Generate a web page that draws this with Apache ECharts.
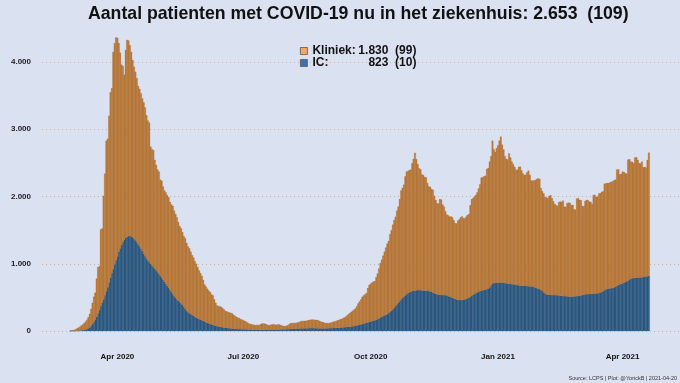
<!DOCTYPE html>
<html>
<head>
<meta charset="utf-8">
<script src="https://cdn.jsdelivr.net/npm/echarts@6/dist/echarts.min.js"></script>
<style>html,body{margin:0;padding:0;background:#dbe3f3}#c{width:680px;height:383px}</style>
</head>
<body>
<div id="c"></div>
<script>
// Daily hospital occupancy (total = Kliniek + IC), starting 2020-02-27
const totaal_feb20 = [5, 8, 12];
const totaal_mar20 = [18,28,40,52,66,82,98,118,140,168,205,255,330,420,510,570,780,950,965,1510,1525,2010,2340,2830,2860,3200,3550,3610,4150,4280,4365];
const totaal_apr20 = [4360,4280,4140,3960,3940,3810,4180,4330,4320,4250,4150,4030,3930,3855,3760,3645,3600,3535,3460,3400,3325,3210,3130,3100,2740,2705,2690,2545,2470,2400];
const totaal_may20 = [2370,2250,2235,2150,2090,2060,2020,1990,1920,1880,1860,1790,1740,1690,1620,1560,1530,1470,1410,1380,1310,1260,1230,1180,1130,1090,1040,1000,950,900,860];
const totaal_jun20 = [820,760,690,660,630,600,580,545,530,470,420,380,365,370,360,340,320,300,290,280,275,268,260,240,225,210,200,190,178,168];
const totaal_jul20 = [160,150,140,125,112,104,100,96,90,88,92,86,95,108,112,110,106,96,88,85,95,98,100,96,92,100,96,88,80,75,74];
const totaal_aug20 = [78,84,100,114,118,120,116,122,124,130,138,148,150,149,152,156,162,166,168,170,168,164,166,160,150,138,134,128,122,118,120];
const totaal_sep20 = [118,124,130,138,142,148,158,164,172,180,190,200,214,232,250,268,285,300,318,335,370,410,440,470,510,530,545,565,640,685];
const totaal_oct20 = [705,720,735,740,800,855,930,1010,1060,1120,1180,1240,1300,1340,1440,1500,1580,1650,1700,1790,1850,1960,2090,2130,2175,2300,2370,2380,2395,2400,2495];
const totaal_nov20 = [2560,2650,2555,2480,2420,2405,2330,2320,2290,2285,2200,2150,2145,2110,2100,2010,1950,1900,1895,1960,1955,1880,1850,1780,1730,1720,1700,1705,1690,1650];
const totaal_dec20 = [1605,1600,1640,1660,1690,1705,1680,1675,1700,1725,1740,1870,1960,1975,2000,2025,2060,2120,2180,2280,2290,2300,2310,2410,2425,2520,2600,2830,2700,2665,2720];
const totaal_jan21 = [2760,2830,2890,2770,2700,2600,2560,2550,2640,2580,2520,2480,2440,2400,2395,2440,2445,2390,2345,2320,2325,2360,2385,2320,2240,2235,2240,2245,2260,2270,2260];
const totaal_feb21 = [2125,2080,2045,1995,1985,1975,2010,2020,1975,1930,1890,1870,1860,1915,1925,1920,1940,1850,1845,1900,1910,1905,1870,1875,1810,1805,1970,1975];
const totaal_mar21 = [1950,1945,1860,1855,1930,1950,1945,1925,1920,1885,2020,2025,1995,2000,2045,2050,2070,2075,2190,2195,2200,2200,2210,2220,2225,2245,2250,2400,2405,2330,2335];
const totaal_apr21 = [2370,2365,2345,2340,2550,2555,2520,2515,2495,2580,2585,2545,2495,2490,2520,2435,2440,2430,2544,2653];

// IC occupancy
const ic_feb20 = [0, 1, 1];
const ic_mar20 = [2,3,4,5,7,9,11,15,20,28,40,55,80,105,135,170,210,260,310,370,420,470,530,590,650,720,790,860,920,990,1050];
const ic_apr20 = [1110,1180,1230,1280,1320,1355,1385,1400,1412,1413,1405,1395,1375,1350,1322,1290,1260,1225,1190,1150,1112,1080,1050,1025,1000,975,950,928,905,875];
const ic_may20 = [848,818,790,762,730,700,670,640,610,580,550,520,495,470,450,430,410,390,360,330,300,280,265,250,238,225,210,198,188,178,168];
const ic_jun20 = [160,150,140,130,122,114,106,98,90,84,78,72,66,62,58,55,52,48,45,42,40,38,36,34,32,30,29,28,27,26];
const ic_jul20 = [25,24,24,23,22,22,21,20,20,19,19,18,18,17,17,18,19,20,21,20,20,19,18,18,19,20,21,22,23,24,25];
const ic_aug20 = [26,27,28,30,31,32,33,34,35,36,37,38,38,39,40,40,41,41,42,42,41,40,40,39,38,38,37,37,38,39,40];
const ic_sep20 = [41,42,43,44,45,46,47,48,50,52,54,56,58,60,62,64,66,70,74,78,82,86,92,98,104,110,116,122,128,134];
const ic_oct20 = [140,146,152,158,166,176,188,200,212,222,230,238,250,266,284,302,322,345,370,395,420,445,470,490,510,530,548,562,574,584,592];
const ic_nov20 = [598,602,605,606,606,605,604,602,600,598,596,593,590,582,572,562,552,544,540,537,535,534,533,532,530,520,510,502,495,485];
const ic_dec20 = [476,468,463,460,460,461,464,470,478,486,495,510,525,538,550,562,575,585,592,598,604,610,615,622,632,648,680,705,712,716,719];
const ic_jan21 = [720,720,719,718,716,712,708,704,700,698,696,694,690,686,682,678,675,673,672,671,670,668,666,664,662,660,654,646,638,630,622];
const ic_feb21 = [610,595,575,558,545,540,538,536,535,534,533,532,530,528,525,522,520,519,518,515,512,510,510,511,514,516,518,520];
const ic_mar21 = [524,528,534,540,545,548,550,551,552,553,555,556,558,560,564,570,580,592,606,618,626,630,633,636,640,648,660,672,684,692,700];
const ic_apr21 = [708,718,728,738,750,765,778,784,788,790,792,794,795,796,798,802,806,810,813,823];

const startDate = '2020-02-27';
const tickDates = ['2020-04-01','2020-07-01','2020-10-01','2021-01-01','2021-04-01'];
const tickLabels = ['Apr 2020','Jul 2020','Oct 2020','Jan 2021','Apr 2021'];
const titlePrefix = 'Aantal patienten met COVID-19 nu in het ziekenhuis: ';
const sourceText = 'Source: LCPS | Plot: @YorickB | 2021-04-20';

const totaal = [].concat(totaal_feb20, totaal_mar20, totaal_apr20, totaal_may20, totaal_jun20, totaal_jul20,
  totaal_aug20, totaal_sep20, totaal_oct20, totaal_nov20, totaal_dec20, totaal_jan21, totaal_feb21, totaal_mar21, totaal_apr21);
const ic = [].concat(ic_feb20, ic_mar20, ic_apr20, ic_may20, ic_jun20, ic_jul20, ic_aug20, ic_sep20, ic_oct20,
  ic_nov20, ic_dec20, ic_jan21, ic_feb21, ic_mar21, ic_apr21);
const kliniek = totaal.map((v, i) => v - ic[i]);

const FF = '"Liberation Sans", Arial, sans-serif';
const fmt = v => String(v).replace(/\B(?=(\d{3})+(?!\d))/g, '.');
const n = totaal.length;
const dTot = totaal[n-1] - totaal[n-2];
const dKl = kliniek[n-1] - kliniek[n-2];
const dIc = ic[n-1] - ic[n-2];

// Daily category axis with empty margin days before and after the data
const padBefore = 20, padAfter = 22;
const dayMs = 86400000;
const t0 = Date.parse(startDate + 'T00:00:00Z');
const days = [];
for (let i = -padBefore; i < n + padAfter; i++) days.push(new Date(t0 + i * dayMs).toISOString().slice(0, 10));
const pad = (arr) => Array(padBefore).fill('-').concat(arr, Array(padAfter).fill('-'));

const chart = echarts.init(document.getElementById('c'), null, {renderer: 'canvas'});
chart.setOption({
  backgroundColor: '#dae2f2',
  animation: false,
  title: [{
    text: titlePrefix + fmt(totaal[n-1]) + '  (' + dTot + ')',
    left: 88, top: 3, padding: 0,
    textStyle: {fontFamily: FF, fontSize: 17.7, fontWeight: 'bold', color: '#111', lineHeight: 22}
  }, {
    text: sourceText, right: 3, bottom: 2, padding: 0,
    textStyle: {fontFamily: FF, fontSize: 5.5, fontWeight: 'normal', color: '#333'}
  }],
  legend: {
    orient: 'vertical', left: 300, top: 45, padding: 0, itemGap: 0,
    itemWidth: 7, itemHeight: 7, icon: 'rect',
    data: [
      {name: 'Kliniek', itemStyle: {color: '#f2a86a', borderColor: '#6a5548', borderWidth: 0.8}},
      {name: 'IC', itemStyle: {color: '#3c6fb4', borderColor: '#6a5548', borderWidth: 0.8}}
    ],
    formatter: name => name === 'Kliniek'
      ? '{a|Kliniek:}{b|' + fmt(kliniek[n-1]) + '}{c|(' + dKl + ')}'
      : '{a|IC:}{b|' + fmt(ic[n-1]) + '}{c|(' + dIc + ')}',
    textStyle: {
      fontFamily: FF, fontSize: 12, fontWeight: 'bold', color: '#111', lineHeight: 12,
      rich: {
        a: {width: 49, fontFamily: FF, fontSize: 12, fontWeight: 'bold', color: '#111'},
        b: {width: 27, align: 'right', fontFamily: FF, fontSize: 12, fontWeight: 'bold', color: '#111'},
        c: {width: 28, align: 'right', fontFamily: FF, fontSize: 12, fontWeight: 'bold', color: '#111'}
      }
    }
  },
  grid: {left: 42, right: 0, top: 30, bottom: 52},
  xAxis: {
    type: 'category', data: days, boundaryGap: true,
    axisLine: {show: false}, axisTick: {show: false}, splitLine: {show: false},
    axisLabel: {
      interval: (idx, val) => tickDates.indexOf(val) >= 0,
      formatter: val => { const i = tickDates.indexOf(val); return i >= 0 ? tickLabels[i] : ''; },
      margin: 22, fontFamily: FF, fontSize: 8, fontWeight: 'bold', color: '#111'
    }
  },
  yAxis: {
    type: 'value', min: 0, max: 4476, interval: 1000,
    axisLine: {show: false}, axisTick: {show: false},
    splitLine: {show: true, showMaxLine: false, lineStyle: {type: [1, 3], color: '#cdb0a6', width: 1}},
    axisLabel: {formatter: v => fmt(v), margin: 11, fontFamily: FF, fontSize: 8, fontWeight: 'bold', color: '#222', showMaxLabel: false}
  },
  series: [
    {name: 'IC', type: 'bar', stack: 's', barWidth: '125%', barGap: '-100%',
     data: pad(ic),
     itemStyle: {color: '#2e5a87', borderColor: '#2a4f6a', borderWidth: 0.25}},
    {name: 'Kliniek', type: 'bar', stack: 's', barWidth: '125%', barGap: '-100%',
     data: pad(kliniek),
     itemStyle: {color: '#bd7d35', borderColor: '#a0613a', borderWidth: 0.25}}
  ]
});
</script>
</body>
</html>
